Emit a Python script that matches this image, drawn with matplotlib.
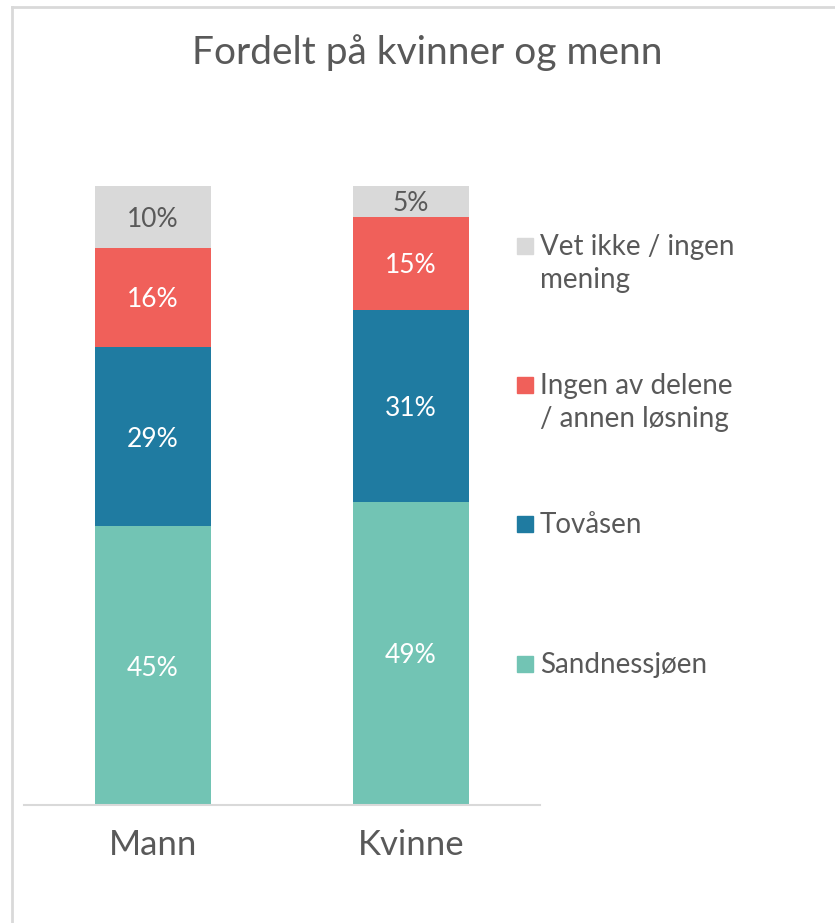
import matplotlib.pyplot as plt
from matplotlib.patches import Rectangle
from matplotlib.lines import Line2D

plt.rcParams['font.family'] = ['Lato', 'DejaVu Sans']

# Data
groups = ['Mann', 'Kvinne']
series = ['Sandnessjøen', 'Tovåsen', 'Ingen av delene\n/ annen løsning', 'Vet ikke / ingen\nmening']
values = [
    [45, 49],   # Sandnessjøen
    [29, 31],   # Tovåsen
    [16, 15],   # Ingen av delene / annen løsning
    [10, 5],    # Vet ikke / ingen mening
]
colors = ['#72C4B4', '#1F7BA1', '#F0605A', '#D9D9D9']
label_colors = ['white', 'white', 'white', '#595959']
text_color = '#595959'

W, H = 835, 923
fig = plt.figure(figsize=(W / 100, H / 100), dpi=100)
ax = fig.add_axes([24 / W, 1 - 805 / H, (540 - 24) / W, (805 - 186) / H])

x = range(len(groups))
bottom = [0] * len(groups)
for vals, col, lcol in zip(values, colors, label_colors):
    ax.bar(x, vals, width=0.45, bottom=bottom, color=col, edgecolor='none')
    for xi, v, b in zip(x, vals, bottom):
        ax.text(xi, b + v / 2, f'{v}%', ha='center', va='center_baseline',
                color=lcol, fontsize=19)
    bottom = [b + v for b, v in zip(bottom, vals)]

ax.set_xlim(-0.5, 1.5)
ax.set_ylim(0, 100)
ax.set_yticks([])
ax.set_xticks(list(x))
ax.set_xticklabels(groups, fontsize=25, color=text_color)
ax.tick_params(axis='x', length=0, pad=17)
for s in ['top', 'right', 'left']:
    ax.spines[s].set_visible(False)
ax.spines['bottom'].set_color('#D9D9D9')
ax.spines['bottom'].set_linewidth(1.5)

fig.text(427 / W, 1 - 64 / H, 'Fordelt på kvinner og menn', ha='center', va='baseline',
         fontsize=28, color=text_color)

# Legend (drawn manually, top entry first), one text per line
legend_base = [255, 394, 533, 673]
line_gap = 33
for lab, col, yb in zip(series[::-1], colors[::-1], legend_base):
    fig.patches.append(Rectangle((517 / W, 1 - (yb - 1) / H), 16 / W, 16 / H,
                                 transform=fig.transFigure, color=col))
    for i, line in enumerate(lab.split('\n')):
        fig.text(540 / W, 1 - (yb + i * line_gap) / H, line, ha='left', va='baseline',
                 fontsize=20, color=text_color)

# Border lines (left and top)
fig.add_artist(Line2D([12 / W, 12 / W], [0, 1 - 7 / H], color='#D9D9D9', lw=2,
                      transform=fig.transFigure))
fig.add_artist(Line2D([12 / W, 1], [1 - 7 / H, 1 - 7 / H], color='#D9D9D9', lw=2,
                      transform=fig.transFigure))

fig.savefig('out.png', dpi=100)
